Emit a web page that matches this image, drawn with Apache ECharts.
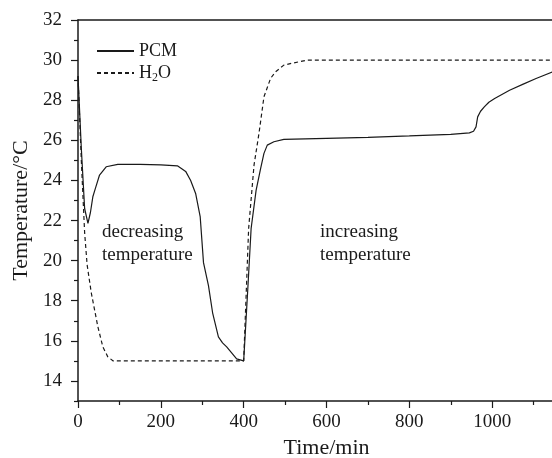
<!DOCTYPE html>
<html>
<head>
<meta charset="utf-8">
<script src="https://cdn.jsdelivr.net/npm/echarts@6/dist/echarts.min.js"></script>
<style>
  html, body { margin: 0; padding: 0; background: #fff; }
  #chart { width: 552px; height: 458px; }
</style>
</head>
<body>
<div id="chart"></div>
<script>
// PCM water tank temperature vs time
const pcmTime = [0, 8, 16, 24, 30, 36, 42, 52, 68, 96, 150, 200, 240, 260, 272, 284, 295, 303, 315, 325, 339, 349, 359, 371, 383, 400,
  410, 418, 430, 441, 449, 457, 473, 497, 600, 700, 800, 900, 945, 955, 961, 965, 972, 981, 992, 1006, 1042, 1075, 1106, 1145];
const pcmTemp = [29.2, 25.6, 22.6, 21.86, 22.4, 23.2, 23.6, 24.27, 24.68, 24.8, 24.8, 24.78, 24.73, 24.45, 24.0, 23.35, 22.2, 19.9, 18.75, 17.4, 16.2, 15.9, 15.7, 15.4, 15.1, 15.0,
  18.6, 21.6, 23.5, 24.6, 25.35, 25.76, 25.93, 26.05, 26.1, 26.15, 26.22, 26.3, 26.37, 26.45, 26.67, 27.17, 27.45, 27.67, 27.9, 28.09, 28.5, 28.8, 29.08, 29.4];

const h2oTime = [0, 8, 16, 22, 32, 48, 60, 72, 85, 400, 412, 425, 437, 449, 465, 477, 497, 518, 554, 1145];
const h2oTemp = [29.2, 25.0, 21.4, 19.8, 18.4, 16.7, 15.7, 15.2, 15.0, 15.0, 21.6, 24.76, 26.35, 28.17, 29.09, 29.42, 29.75, 29.85, 30.0, 30.0];

const yMajorTicks = [14, 16, 18, 20, 22, 24, 26, 28, 30, 32];
const yMinorTicks = [13, 15, 17, 19, 21, 23, 25, 27, 29, 31];

const zip = (xs, ys) => xs.map((x, i) => [x, ys[i]]);

const FONT = 'Liberation Serif';
const INK = '#1a1a1a';

let chart = echarts.init(document.getElementById('chart'));
chart.setOption({
  animation: false,
  backgroundColor: '#fff',
  textStyle: { fontFamily: FONT, color: INK },
  grid: { left: 78, top: 20, right: -23, bottom: 57, containLabel: false, outerBoundsMode: 'none' },
  legend: {
    orient: 'vertical',
    left: 96,
    top: 42,
    padding: 0,
    itemWidth: 37,
    itemHeight: 14,
    itemGap: 4,
    itemStyle: { opacity: 0 },
    textStyle: {
      fontFamily: FONT,
      fontSize: 18,
      color: INK,
      rich: {
        n: { fontFamily: FONT, fontSize: 18, color: INK, lineHeight: 22 },
        s: { fontFamily: FONT, fontSize: 12, color: INK, lineHeight: 12, verticalAlign: 'bottom' }
      }
    },
    formatter: name => name === 'H2O' ? '{n|H}{s|2}{n|O}' : '{n|' + name + '}',
    data: ['PCM', 'H2O']
  },
  xAxis: [{
    type: 'value',
    min: 0,
    max: 1200,
    interval: 200,
    name: 'Time/min',
    nameLocation: 'middle',
    nameGap: 32,
    nameTextStyle: { fontFamily: FONT, fontSize: 22, color: INK },
    axisLine: { show: true, onZero: false, lineStyle: { color: INK, width: 1.5 } },
    axisTick: { show: true, inside: false, length: 7, lineStyle: { color: INK, width: 1.2 } },
    minorTick: { show: true, splitNumber: 2, length: 4, lineStyle: { color: INK, width: 1.2 } },
    axisLabel: { fontFamily: FONT, fontSize: 19, color: INK, margin: 12, formatter: v => String(v) },
    splitLine: { show: false }
  }, {
    type: 'value',
    position: 'top',
    min: 0,
    max: 1200,
    axisLine: { show: true, onZero: false, lineStyle: { color: INK, width: 1.5 } },
    axisTick: { show: false },
    axisLabel: { show: false },
    splitLine: { show: false }
  }],
  yAxis: [{
    type: 'value',
    min: 13,
    max: 32,
    name: 'Temperature/°C',
    nameLocation: 'middle',
    nameGap: 45,
    nameRotate: 90,
    nameTextStyle: { fontFamily: FONT, fontSize: 22, color: INK },
    axisLine: { show: true, onZero: false, lineStyle: { color: INK, width: 1.5 } },
    axisTick: { show: true, inside: false, length: 7, customValues: yMajorTicks, lineStyle: { color: INK, width: 1.2 } },
    axisLabel: { fontFamily: FONT, fontSize: 19, color: INK, margin: 16, customValues: yMajorTicks },
    splitLine: { show: false }
  }, {
    type: 'value',
    position: 'left',
    min: 13,
    max: 32,
    axisLine: { show: false },
    axisTick: { show: true, inside: false, length: 4, customValues: yMinorTicks, lineStyle: { color: INK, width: 1.2 } },
    axisLabel: { show: false },
    splitLine: { show: false }
  }],
  graphic: [
    {
      type: 'text', left: 102, top: 221,
      style: { text: 'decreasing\ntemperature', font: '19px "Liberation Serif"', fill: INK, lineHeight: 23 }
    },
    {
      type: 'text', left: 320, top: 221,
      style: { text: 'increasing\ntemperature', font: '19px "Liberation Serif"', fill: INK, lineHeight: 23 }
    }
  ],
  series: [
    {
      name: 'PCM',
      type: 'line',
      showSymbol: false,
      symbol: 'none',
      data: zip(pcmTime, pcmTemp),
      itemStyle: { color: INK },
      lineStyle: { color: INK, width: 1.2, type: 'solid' }
    },
    {
      name: 'H2O',
      type: 'line',
      showSymbol: false,
      symbol: 'none',
      data: zip(h2oTime, h2oTemp),
      itemStyle: { color: INK },
      lineStyle: { color: INK, width: 1.2, type: [4, 3] }
    }
  ]
});
</script>
</body>
</html>
